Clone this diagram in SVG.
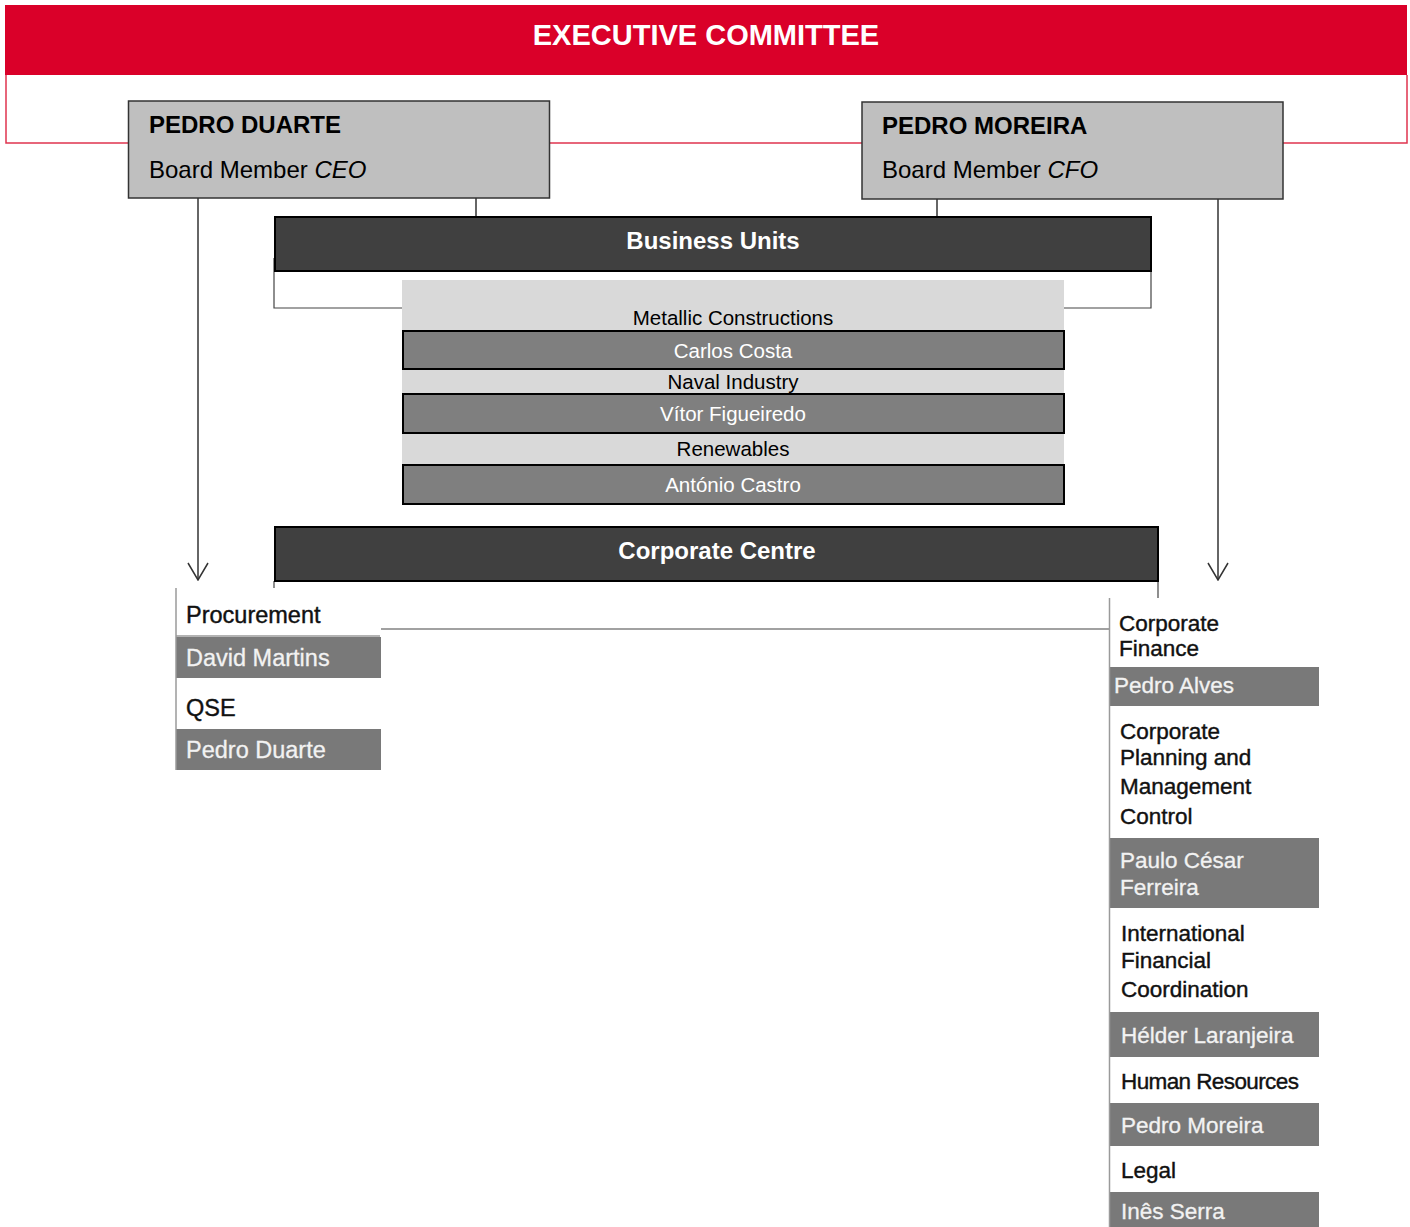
<svg xmlns="http://www.w3.org/2000/svg" width="1410" height="1227" viewBox="0 0 1410 1227">
  <style>
    text { font-family: "Liberation Sans", Arial, sans-serif; }
    .title { fill: #ffffff; font-size: 29px; font-weight: bold; }
    .member { fill: #bfbfbf; stroke: #333333; stroke-width: 1.5; }
    .name { fill: #000000; font-size: 24px; font-weight: bold; }
    .role { fill: #000000; font-size: 24px; }
    .bar { fill: #404040; stroke: #000000; stroke-width: 2; }
    .barText { fill: #ffffff; font-size: 24px; font-weight: bold; text-anchor: middle; }
    .unit { fill: #000000; font-size: 20.5px; text-anchor: middle; }
    .head { fill: #7f7f7f; stroke: #000000; stroke-width: 2; }
    .headText { fill: #ffffff; font-size: 20.5px; text-anchor: middle; }
    .dept { fill: #ffffff; }
    .deptText { fill: #111111; stroke: #111111; stroke-width: 0.4; font-size: 22.5px; }
    .chief { fill: #797979; }
    .chiefText { fill: #f2f2f2; stroke: #f2f2f2; stroke-width: 0.3; font-size: 22.5px; }
    .left .deptText, .left .chiefText { font-size: 23.5px; }
    .link { fill: none; stroke: #333333; stroke-width: 1.5; }
    .thin { fill: none; stroke: #444444; stroke-width: 1.2; }
    .edge { fill: none; stroke: #9a9a9a; stroke-width: 1.5; }
  </style>
  <defs>
    <marker id="arrowOpen" viewBox="0 0 20 22" refX="19" refY="11" markerWidth="20" markerHeight="22" markerUnits="userSpaceOnUse" orient="auto">
      <path d="M2,1 L19,11 L2,21" fill="none" stroke="#333333" stroke-width="1.5"/>
    </marker>
  </defs>

  <!-- Executive committee frame -->
  <g id="executive-committee">
    <rect x="5" y="5" width="1402" height="70" fill="#da0029"/>
    <path d="M6,75 V143 H1407 V75" fill="none" stroke="#e0344f" stroke-width="1.5"/>
    <text class="title" x="706" y="45" text-anchor="middle">EXECUTIVE COMMITTEE</text>
  </g>

  <!-- Connectors -->
  <g id="connectors">
    <line class="link" x1="198" y1="198" x2="198" y2="580" marker-end="url(#arrowOpen)"/>
    <line class="link" x1="476" y1="198" x2="476" y2="216"/>
    <line class="link" x1="937" y1="199" x2="937" y2="216"/>
    <line class="link" x1="1218" y1="199" x2="1218" y2="580" marker-end="url(#arrowOpen)"/>
    <!-- frame under Business Units -->
    <path class="thin" d="M274,258 V308 H402"/>
    <path class="thin" d="M1064,308 H1151 V271"/>
    <!-- Corporate Centre links -->
    <line class="thin" x1="274" y1="581" x2="274" y2="589"/>
    <line class="thin" x1="1158" y1="581" x2="1158" y2="598"/>
    <line class="thin" x1="381" y1="629" x2="1109" y2="629"/>
  </g>

  <g id="pedro-duarte">
    <rect class="member" x="128.5" y="101" width="421" height="97"/>
    <text class="name" x="149" y="133">PEDRO DUARTE</text>
    <text class="role" x="149" y="178">Board Member <tspan font-style="italic">CEO</tspan></text>
  </g>

  <g id="pedro-moreira">
    <rect class="member" x="862" y="102" width="421" height="97"/>
    <text class="name" x="882" y="134">PEDRO MOREIRA</text>
    <text class="role" x="882" y="178">Board Member <tspan font-style="italic">CFO</tspan></text>
  </g>

  <g id="business-units">
    <rect class="bar" x="275" y="217" width="876" height="54"/>
    <text class="barText" x="713" y="249">Business Units</text>
  </g>

  <g id="business-unit-list">
    <rect x="402" y="280" width="662" height="225" fill="#d9d9d9"/>
    <text class="unit" x="733" y="325">Metallic Constructions</text>
    <rect class="head" x="403" y="331" width="661" height="38"/>
    <text class="headText" x="733" y="358">Carlos Costa</text>
    <text class="unit" x="733" y="389">Naval Industry</text>
    <rect class="head" x="403" y="394" width="661" height="39"/>
    <text class="headText" x="733" y="421">Vítor Figueiredo</text>
    <text class="unit" x="733" y="456">Renewables</text>
    <rect class="head" x="403" y="465" width="661" height="39"/>
    <text class="headText" x="733" y="492">António Castro</text>
  </g>

  <g id="corporate-centre">
    <rect class="bar" x="275" y="527" width="883" height="54"/>
    <text class="barText" x="717" y="559">Corporate Centre</text>
  </g>

  <!-- Departments under the CEO -->
  <g id="ceo-departments" class="left">
    <rect class="dept" x="176" y="588" width="204" height="48"/>
    <text class="deptText" x="186" y="623">Procurement</text>
    <rect class="chief" x="176" y="637" width="205" height="41"/>
    <text class="chiefText" x="186" y="666">David Martins</text>
    <rect class="dept" x="176" y="680" width="204" height="48"/>
    <text class="deptText" x="186" y="716">QSE</text>
    <rect class="chief" x="176" y="729" width="205" height="41"/>
    <text class="chiefText" x="186" y="758">Pedro Duarte</text>
    <line class="edge" x1="176" y1="588" x2="176" y2="770"/>
    <line class="edge" x1="176" y1="636" x2="380" y2="636" stroke="#cfcfcf"/>
  </g>

  <!-- Departments under the CFO -->
  <g id="cfo-departments">
    <rect class="dept" x="1109" y="598" width="200" height="68"/>
    <text class="deptText" x="1119" y="631">Corporate</text>
    <text class="deptText" x="1119" y="656">Finance</text>
    <rect class="chief" x="1109" y="667" width="210" height="39"/>
    <text class="chiefText" x="1114" y="693">Pedro Alves</text>
    <text class="deptText" x="1120" y="739">Corporate</text>
    <text class="deptText" x="1120" y="765">Planning and</text>
    <text class="deptText" x="1120" y="794">Management</text>
    <text class="deptText" x="1120" y="824">Control</text>
    <rect class="chief" x="1109" y="838" width="210" height="70"/>
    <text class="chiefText" x="1120" y="868">Paulo César</text>
    <text class="chiefText" x="1120" y="895">Ferreira</text>
    <text class="deptText" x="1121" y="941">International</text>
    <text class="deptText" x="1121" y="968">Financial</text>
    <text class="deptText" x="1121" y="997">Coordination</text>
    <rect class="chief" x="1109" y="1012" width="210" height="45"/>
    <text class="chiefText" x="1121" y="1043">Hélder Laranjeira</text>
    <text class="deptText" x="1121" y="1089" letter-spacing="-0.6">Human Resources</text>
    <rect class="chief" x="1109" y="1103" width="210" height="43"/>
    <text class="chiefText" x="1121" y="1133">Pedro Moreira</text>
    <text class="deptText" x="1121" y="1178">Legal</text>
    <rect class="chief" x="1109" y="1192" width="210" height="35"/>
    <text class="chiefText" x="1121" y="1219">Inês Serra</text>
    <line class="edge" x1="1109.5" y1="598" x2="1109.5" y2="1227"/>
  </g>
</svg>
